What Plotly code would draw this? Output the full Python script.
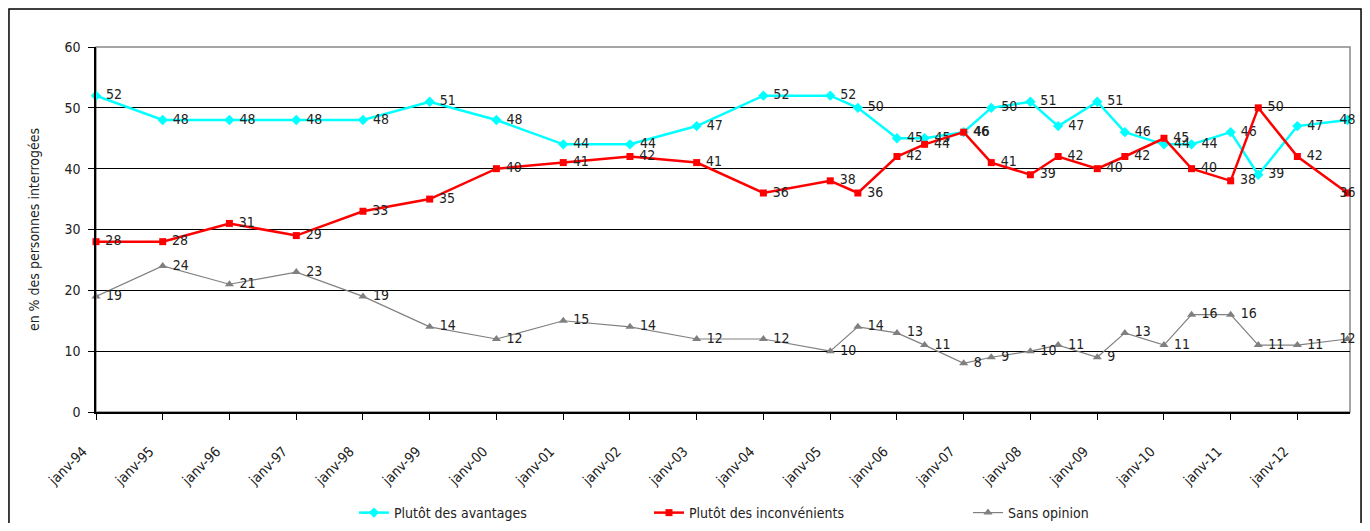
import plotly.graph_objects as go

# survey dates (January each year, plus mid-year waves from 2005)
dates = [
    "1994-01-01", "1995-01-01", "1996-01-01", "1997-01-01", "1998-01-01",
    "1999-01-01", "2000-01-01", "2001-01-01", "2002-01-01", "2003-01-01",
    "2004-01-01", "2005-01-01", "2005-06-01", "2006-01-01", "2006-06-01",
    "2007-01-01", "2007-06-01", "2008-01-01", "2008-06-01", "2009-01-01",
    "2009-06-01", "2010-01-01", "2010-06-01", "2011-01-01", "2011-06-01",
    "2012-01-01", "2012-10-01",
]

avantages = [52, 48, 48, 48, 48, 51, 48, 44, 44, 47, 52, 52, 50, 45, 45,
             46, 50, 51, 47, 51, 46, 44, 44, 46, 39, 47, 48]
inconvenients = [28, 28, 31, 29, 33, 35, 40, 41, 42, 41, 36, 38, 36, 42, 44,
                 46, 41, 39, 42, 40, 42, 45, 40, 38, 50, 42, 36]
sans_opinion = [19, 24, 21, 23, 19, 14, 12, 15, 14, 12, 12, 10, 14, 13, 11,
                8, 9, 10, 11, 9, 13, 11, 16, 16, 11, 11, 12]

FONT = "DejaVu Sans Condensed, Liberation Sans Narrow, sans-serif"
TXT = "#222222"

# name, values, colour, marker, marker size, line width, legend id, legend x
series = [
    ("Plutôt des avantages", avantages, "#00FFFF", "diamond", 8, 2.5, "legend", 0.2555),
    ("Plutôt des inconvénients", inconvenients, "#FF0000", "square", 7, 2.5, "legend2", 0.4734),
    ("Sans opinion", sans_opinion, "#808080", "triangle-up", 8, 1.2, "legend3", 0.709),
]

fig = go.Figure()
legends = {}
for name, vals, color, symbol, msize, lw, leg, lx in series:
    # last label sits on top of its marker (right edge of the chart)
    labels = ["\u00a0" + str(v) for v in vals[:-1]] + [str(vals[-1])]
    positions = ["middle right"] * (len(vals) - 1) + ["middle center"]
    fig.add_trace(go.Scatter(
        x=dates, y=vals, name=name,
        mode="lines+markers+text",
        text=labels,
        textposition=positions,
        textfont=dict(family=FONT, size=14, color=TXT),
        line=dict(color=color, width=lw),
        marker=dict(symbol=symbol, size=msize, color=color),
        cliponaxis=False,
        legend=leg,
    ))
    legends[leg] = dict(
        orientation="h",
        xref="container", yref="container",
        x=lx, xanchor="left", y=0.0194, yanchor="middle",
        font=dict(family=FONT, size=14, color=TXT),
        itemwidth=30,
        bgcolor="rgba(0,0,0,0)",
    )

fig.update_xaxes(
    type="date",
    range=["1994-01-01", "2012-10-15"],
    tick0="1994-01-01", dtick="M12",
    tickformat="janv-%y",
    tickangle=-45,
    ticks="outside", ticklen=6, tickcolor="#000",
    ticklabelstandoff=18, ticklabelshift=-13,
    showline=True, linecolor="#000", linewidth=1.5,
    showgrid=False,
    automargin=False,
    tickfont=dict(family=FONT, size=14, color=TXT),
)
fig.update_yaxes(
    range=[0, 60], dtick=10,
    ticks="outside", ticklen=6, tickcolor="#000",
    ticklabelstandoff=5,
    showline=True, linecolor="#000", linewidth=1.5,
    showgrid=True, gridcolor="#000", gridwidth=1,
    zeroline=False,
    automargin=False,
    tickfont=dict(family=FONT, size=14, color=TXT),
    title=dict(text="en % des personnes interrogées",
               font=dict(family=FONT, size=14, color=TXT),
               standoff=22),
)

# plot-area border (grey on top and right)
fig.add_shape(type="rect", xref="paper", yref="paper", x0=0, x1=1, y0=0, y1=1,
              line=dict(color="#888888", width=1.5), layer="between")
# outer frame around the whole chart
fig.add_shape(type="rect", xref="paper", yref="paper",
              x0=-0.0694, x1=1.0088, y0=-0.4, y1=1.1041,
              line=dict(color="#000", width=1.5), layer="below")

fig.update_layout(
    width=1354, height=515,
    margin=dict(l=88, r=12, t=39, b=111),
    plot_bgcolor="white", paper_bgcolor="white",
    font=dict(family=FONT, size=14, color=TXT),
    showlegend=True,
    **legends,
)

fig.write_html("out.html")
